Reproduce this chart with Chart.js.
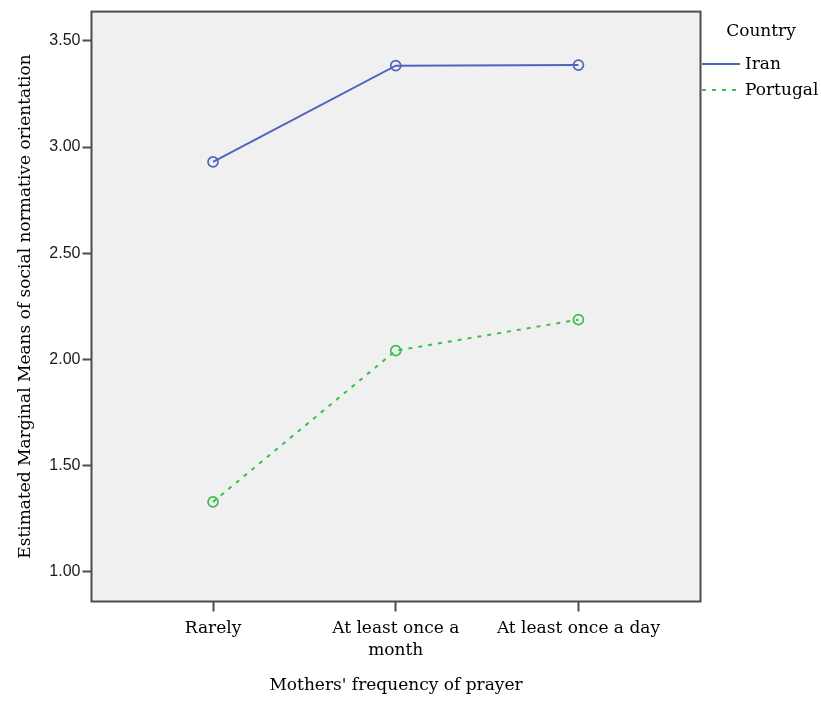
<!DOCTYPE html>
<html>
<head>
<meta charset="utf-8">
<script src="https://cdn.jsdelivr.net/npm/chart.js@4/dist/chart.umd.min.js"></script>
<style>
  html, body { margin: 0; padding: 0; background: #ffffff; }
  #wrap { width: 821px; height: 702px; position: relative; }
</style>
</head>
<body>
<div id="wrap"><canvas id="c" width="821" height="702"></canvas></div>
<script>
const categories = ['Rarely', 'At least once a month', 'At least once a day'];
const xTickLabels = ['Rarely', ['At least once a', 'month'], 'At least once a day'];
const iranMeans = [2.930, 3.383, 3.386];
const portugalMeans = [1.329, 2.041, 2.187];
const yTickValues = [1.00, 1.50, 2.00, 2.50, 3.00, 3.50];
const seriesNames = ['Iran', 'Portugal'];
const legendTitle = 'Country';
const xTitle = "Mothers' frequency of prayer";
const yTitle = 'Estimated Marginal Means of social normative orientation';

const SERIF = '"DejaVu Serif", serif';
const SANS = '"Liberation Sans", Arial, sans-serif';
const IRAN_COLOR = '#4f64bf';
const PORT_COLOR = '#3dbd50';
const FRAME = '#4d4d4d';
const TEXT = '#000';

const toPoints = arr => arr.map((v, i) => ({ x: i, y: v }));

const framePlugin = {
  id: 'frame',
  beforeDatasetsDraw(chart) {
    const { ctx, chartArea: a } = chart;
    ctx.save();
    ctx.fillStyle = '#f0f0f0';
    ctx.fillRect(a.left, a.top, a.right - a.left, a.bottom - a.top);
    ctx.restore();
  },
  afterDraw(chart) {
    const { ctx, chartArea: a } = chart;
    ctx.save();
    ctx.strokeStyle = FRAME;
    ctx.lineWidth = 2;
    ctx.strokeRect(a.left, a.top, a.right - a.left, a.bottom - a.top);
    // legend
    ctx.fillStyle = TEXT;
    ctx.font = '17px ' + SERIF;
    ctx.textBaseline = 'middle';
    ctx.textAlign = 'center';
    ctx.fillText(legendTitle, 761, 32);
    ctx.textAlign = 'left';
    const rows = [64, 90];
    chart.data.datasets.forEach((ds, i) => {
      const y = rows[i];
      ctx.beginPath();
      ctx.strokeStyle = ds.borderColor;
      ctx.lineWidth = 2;
      ctx.setLineDash(ds.borderDash || []);
      ctx.moveTo(702, y);
      ctx.lineTo(740, y);
      ctx.stroke();
      ctx.setLineDash([]);
      ctx.fillStyle = TEXT;
      ctx.fillText(ds.label, 745, y + 1);
    });
    ctx.restore();
  }
};

new Chart(document.getElementById('c'), {
  type: 'line',
  data: {
    datasets: [
      {
        label: seriesNames[0],
        data: toPoints(iranMeans),
        borderColor: IRAN_COLOR,
        borderWidth: 2,
        pointRadius: 5,
        pointBorderWidth: 1.7,
        pointBackgroundColor: 'rgba(0,0,0,0)',
        pointBorderColor: IRAN_COLOR,
        tension: 0,
        fill: false
      },
      {
        label: seriesNames[1],
        data: toPoints(portugalMeans),
        borderColor: PORT_COLOR,
        borderWidth: 2,
        borderDash: [4, 6],
        pointRadius: 5,
        pointBorderWidth: 1.7,
        pointBackgroundColor: 'rgba(0,0,0,0)',
        pointBorderColor: PORT_COLOR,
        tension: 0,
        fill: false
      }
    ]
  },
  options: {
    responsive: false,
    animation: false,
    devicePixelRatio: 1,
    layout: { padding: { left: 0, right: 120.5, top: 10, bottom: 0 } },
    plugins: {
      legend: { display: false },
      tooltip: { enabled: false },
      title: { display: false }
    },
    scales: {
      x: {
        type: 'linear',
        min: -0.665,
        max: 2.668,
        afterBuildTicks(scale) {
          scale.ticks = categories.map((c, i) => ({ value: i }));
        },
        afterFit(scale) { scale.height = 100.5; },
        ticks: {
          autoSkip: false,
          maxRotation: 0,
          padding: 6,
          color: TEXT,
          font: { family: SERIF, size: 17, lineHeight: 1.3 },
          callback: (v) => xTickLabels[v]
        },
        grid: {
          drawOnChartArea: false,
          drawTicks: true,
          tickLength: 10,
          tickWidth: 2,
          tickColor: FRAME,
          color: FRAME
        },
        border: { display: false },
        title: {
          display: true,
          text: xTitle,
          color: TEXT,
          font: { family: SERIF, size: 17, lineHeight: 1.3 },
          padding: { top: 0, bottom: 5 }
        }
      },
      y: {
        type: 'linear',
        min: 0.860,
        max: 3.6376,
        afterBuildTicks(scale) {
          scale.ticks = yTickValues.map(v => ({ value: v }));
        },
        afterFit(scale) { scale.width = 91.5; },
        ticks: {
          padding: 2,
          color: '#1a1a1a',
          font: { family: SANS, size: 16 },
          callback: (v) => Number(v).toFixed(2)
        },
        grid: {
          drawOnChartArea: false,
          drawTicks: true,
          tickLength: 9,
          tickWidth: 2,
          tickColor: FRAME,
          color: FRAME
        },
        border: { display: false },
        title: {
          display: true,
          text: yTitle,
          color: TEXT,
          font: { family: SERIF, size: 17 },
          padding: { top: 15, bottom: 0 }
        }
      }
    }
  },
  plugins: [framePlugin]
});
</script>
</body>
</html>
